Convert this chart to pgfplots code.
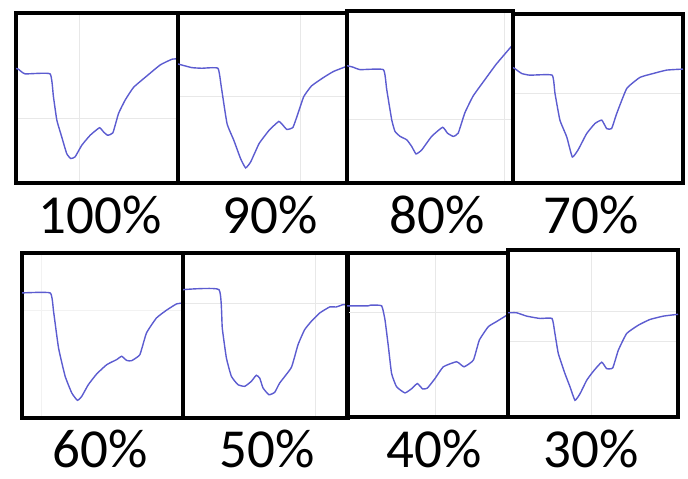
\documentclass[border=0pt]{standalone}
\usepackage{pgfplots}
\pgfplotsset{compat=1.18}
\usepackage{fontspec}
\setmainfont{Carlito}
\definecolor{curveblue}{RGB}{92,92,208}
\pgfplotsset{panel/.style={
  scale only axis, anchor=south west,
  xmin=0, xmax=100, ymin=0, ymax=100,
  axis line style={line width=4bp, black},
  xticklabels={}, yticklabels={}, major tick length=0pt,
  grid=major, major grid style={black!9, line width=0.8bp},
  every axis plot post/.append style={color=curveblue, line width=1.4bp, smooth, tension=0.25, mark=none},
}}
\begin{document}
\begin{tikzpicture}
\useasboundingbox (0bp,0bp) rectangle (688bp,479bp);
% 100%
\begin{axis}[panel, at={(16bp,296bp)}, width=162bp, height=170bp, xtick={39}, ytick={38}]
\addplot coordinates {(0,67.3)(1.4,67.0)(5.6,64.2)(21.0,64.2)(23.1,50.8)(25.2,37.0)(28.2,27.2)(31.3,17.3)(33.8,14.4)(36.5,15.4)(40.6,22.2)(45.8,28.1)(51.5,32.5)(54.0,30.1)(56.5,28.1)(59.8,29.5)(63.3,40.9)(67.4,48.8)(72.6,56.3)(80.8,63.0)(89.1,69.5)(96.3,72.8)(100,73.0)};
\end{axis}
% 90%
\begin{axis}[panel, at={(178bp,296bp)}, width=169bp, height=170bp, xtick={72.6}, ytick={50.8}]
\addplot coordinates {(0,70)(0.4,69.9)(8,67.9)(14,67.5)(23.6,67.5)(25.6,56.7)(29,35.0)(33,25.2)(37,14.4)(40,8.9)(43,12.4)(48,23.2)(54,31.1)(59.6,36.2)(62,34.1)(64.4,31.5)(68,32.7)(71,40.9)(74.4,50.8)(79,57.1)(86,62.0)(92,65.6)(100,68.7)};
\end{axis}
% 80%
\begin{axis}[panel, at={(347bp,296bp)}, width=166bp, height=172bp, xtick={95}, ytick={36.9}]
\addplot coordinates {(0,68.2)(3.8,67.3)(7.8,65.9)(21.9,65.9)(23.9,54.5)(26.9,36.9)(28.9,30.0)(32,27.1)(36,25.1)(39,21.2)(41.6,16.9)(45,19.2)(51,27.1)(57.6,32.4)(60.5,29)(64,27.1)(67,29)(71,40.8)(76,50.6)(83,60)(90,69.2)(100,80.5)};
\end{axis}
% 70%
\begin{axis}[panel, at={(513bp,296bp)}, width=170bp, height=169bp, xtick=\empty, ytick={53}]
\addplot coordinates {(0,68.3)(1.2,67.6)(5.1,64.8)(10,63.8)(23,63.8)(24.7,53.0)(27.6,37.2)(31.6,27.3)(34.9,15.4)(38.4,19.8)(43.3,29.2)(48.2,35.2)(52.2,37.2)(55.1,32.2)(58,32.2)(61,41.1)(66.9,55.9)(74.7,62.5)(82.5,64.8)(90.4,66.8)(100,67.4)};
\end{axis}
% 60%
\begin{axis}[panel, at={(22bp,61bp)}, width=161bp, height=165bp, xtick={12}, ytick={65.3}, major grid style={black!5, line width=0.8bp}]
\addplot coordinates {(0,75.8)(17.5,75.8)(19.6,64.6)(22.7,42.4)(26.8,25.3)(30.9,15.2)(34.4,10.7)(37.1,13.1)(41.2,20.2)(46.4,26.7)(52.6,32.3)(58.8,35.4)(61.9,37.4)(65,34.9)(68,34.7)(73.2,38.4)(77.3,51.5)(83.5,60.6)(89.7,65.3)(95.9,69.1)(100,69.7)};
\end{axis}
% 50%
\begin{axis}[panel, at={(183bp,61bp)}, width=165bp, height=165bp, xtick={80}, ytick={69.7}]
\addplot coordinates {(0,77.8)(21.8,77.8)(23.8,54.5)(26.3,36.4)(29.3,25.3)(33.3,20.2)(37.4,19.2)(41.4,22.2)(44.4,25.9)(46.5,24.2)(48.5,18.2)(52.1,14.1)(55.6,15.6)(58.6,21.2)(65.7,30.7)(69.7,44.4)(73.7,53.5)(77.8,58.6)(82.8,63.6)(88.9,67.3)(92.9,67.3)(97,68.7)(100,68.7)};
\end{axis}
% 40%
\begin{axis}[panel, at={(347bp,62bp)}, width=161bp, height=164bp, xtick={55}, ytick={64}]
\addplot coordinates {(0,67.8)(13.2,67.8)(14.7,68.2)(21.5,67.8)(23.6,59.2)(25.7,42.9)(27.7,26.5)(30.8,18.4)(36,14.7)(40.2,17.3)(43.7,20.4)(47,17.1)(49.9,17.6)(54.7,23.5)(59.8,30.6)(68.1,33.7)(72.7,30.6)(78.5,34.7)(82.2,46.9)(87.8,55.1)(92.9,58.2)(100,62.5)};
\end{axis}
% 30%
\begin{axis}[panel, at={(508bp,62bp)}, width=170bp, height=167bp, xtick={49}, ytick={45,63}]
\addplot coordinates {(0,62.4)(5.1,62.4)(11,60.4)(18.8,59)(25.9,59)(27.6,50)(29.6,38)(33.5,26)(36.5,18)(39.4,10)(42.4,14)(46.3,22)(50.2,27.4)(55.1,32.8)(58,29)(61.6,29.4)(64.9,40)(69.8,50)(76.7,55)(83.5,58.4)(91.4,60.4)(100,61.5)};
\end{axis}
% labels
\begin{scope}[every node/.style={anchor=base, inner sep=0pt, font=\fontsize{55bp}{60bp}\selectfont}]
\node at (100bp,245bp) {100\%};
\node at (270bp,245bp) {90\%};
\node at (437bp,245bp) {80\%};
\node at (591bp,245bp) {70\%};
\node at (100bp,12bp) {60\%};
\node at (267bp,12bp) {50\%};
\node at (434bp,12bp) {40\%};
\node at (591bp,12bp) {30\%};
\end{scope}
\end{tikzpicture}
\end{document}
